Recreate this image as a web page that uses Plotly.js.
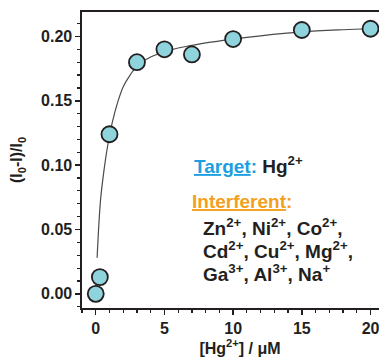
<!DOCTYPE html>
<html>
<head>
<meta charset="utf-8">
<script src="https://cdn.plot.ly/plotly-3.0.1.min.js"></script>
<style>
html, body { margin: 0; padding: 0; overflow: hidden; background: #fff; }
#chart { width: 420px; height: 359px; }
</style>
</head>
<body>
<div id="chart"></div>
<script>
// Measured data points
var concX = [0, 0.3, 1, 3, 5, 7, 10, 15, 20];
var respY = [0.000, 0.013, 0.124, 0.180, 0.190, 0.186, 0.198, 0.205, 0.206];

// Fitted curve
var fitX = [0.1, 0.35, 0.6, 0.9, 1.2, 1.6, 2.0, 2.5, 3.0, 4, 5, 6, 7, 8, 10, 12, 15, 18, 20];
var fitY = [0.028, 0.073, 0.096, 0.117, 0.133, 0.149, 0.161, 0.170, 0.177, 0.184, 0.188, 0.191, 0.193, 0.195, 0.198, 0.2005, 0.2035, 0.2052, 0.206];

// Tick labels
var xTickVals = [0, 5, 10, 15, 20];
var xTickText = ['0', '5', '10', '15', '20'];
var yTickVals = [0, 0.05, 0.10, 0.15, 0.20];
var yTickText = ['0.00', '0.05', '0.10', '0.15', '0.20'];

// Legend-like annotation texts
var targetLabel = 'Target';
var targetIon = 'Hg<sup>2+</sup>';
var interfLabel = 'Interferent';
var interfLines = [
  'Zn<sup>2+</sup>, Ni<sup>2+</sup>, Co<sup>2+</sup>,',
  'Cd<sup>2+</sup>, Cu<sup>2+</sup>, Mg<sup>2+</sup>,',
  'Ga<sup>3+</sup>, Al<sup>3+</sup>, Na<sup>+</sup>'
];

var FONT = 'Liberation Sans, Arial, sans-serif';
var INK = '#231f20';

var traces = [
  {
    x: fitX, y: fitY, type: 'scatter', mode: 'lines',
    line: {color: '#4a4a4a', width: 1.2, shape: 'spline'},
    hoverinfo: 'skip', showlegend: false
  },
  {
    x: concX, y: respY, type: 'scatter', mode: 'markers',
    marker: {size: 16, color: '#8fd3dc', line: {color: INK, width: 1.8}},
    showlegend: false
  }
];

var tickFont = {family: FONT, size: 16, color: INK, weight: 'bold'};

var annFont = function(c){ return {family: FONT, size: 19, color: c, weight: 'bold'}; };

var annotations = [
  {
    xref: 'paper', yref: 'paper', x: 0.347, y: 0.483, xanchor: 'left', yanchor: 'middle',
    text: '<span style="color:#1c9fe0"><u>' + targetLabel + '</u>:</span> ' + targetIon,
    showarrow: false, font: annFont(INK)
  },
  {
    xref: 'paper', yref: 'paper', x: 0.341, y: 0.359, xanchor: 'left', yanchor: 'middle',
    text: '<u>' + interfLabel + '</u>:',
    showarrow: false, font: annFont('#f4a01c')
  }
];
var lineY = [0.275, 0.196, 0.117];
for (var i = 0; i < interfLines.length; i++) {
  annotations.push({
    xref: 'paper', yref: 'paper', x: 0.378, y: lineY[i], xanchor: 'left', yanchor: 'middle',
    text: interfLines[i], showarrow: false, font: annFont(INK)
  });
}

var layout = {
  width: 420, height: 359,
  margin: {l: 82, r: 22, t: 12, b: 51},
  paper_bgcolor: '#ffffff', plot_bgcolor: '#ffffff',
  showlegend: false,
  xaxis: {
    range: [-1, 22],
    tickvals: xTickVals, ticktext: xTickText,
    ticks: 'outside', ticklen: 5, tickwidth: 1.5, tickcolor: INK,
    minor: {dtick: 1, ticks: 'outside', ticklen: 3, tickwidth: 1.2, tickcolor: INK},
    showline: true, linewidth: 1.6, linecolor: INK, mirror: true,
    showgrid: false, zeroline: false,
    tickfont: tickFont,
    title: {text: '[Hg<sup>2+</sup>] / μM', font: {family: FONT, size: 16, color: INK, weight: 'bold'}, standoff: 6}
  },
  yaxis: {
    range: [-0.011, 0.219],
    tickvals: yTickVals, ticktext: yTickText,
    ticks: 'outside', ticklen: 5, tickwidth: 1.5, tickcolor: INK,
    minor: {dtick: 0.01, ticks: 'outside', ticklen: 3, tickwidth: 1.2, tickcolor: INK},
    showline: true, linewidth: 1.6, linecolor: INK,
    showgrid: false, zeroline: false,
    tickfont: tickFont,
    title: {text: '(I<sub>0</sub>-I)/I<sub>0</sub>', font: {family: FONT, size: 16, color: INK, weight: 'bold'}, standoff: 14}
  },
  annotations: annotations
};

Plotly.newPlot('chart', traces, layout, {displayModeBar: false, staticPlot: true});
</script>
</body>
</html>
